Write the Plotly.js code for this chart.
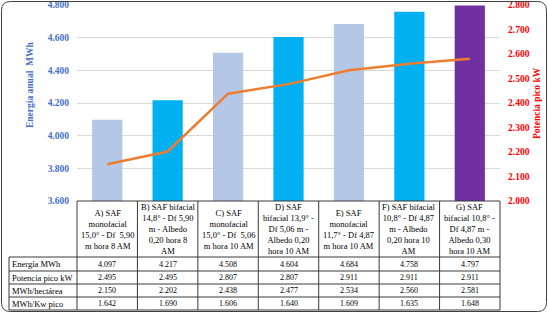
<!DOCTYPE html>
<html>
<head>
<meta charset="utf-8">
<script src="https://cdn.plot.ly/plotly-3.0.1.min.js"></script>
<style>html,body{margin:0;padding:0;background:#fff;}#chart{width:548px;height:313px;}</style>
</head>
<body>
<div id="chart"></div>
<script>
// ---- data ----
var categories = [
  "A) SAF<br>monofacial<br>15,0° - Df  5,90<br>m hora 8 AM",
  "B) SAF bifacial<br>14,8° - Df 5,90<br>m - Albedo<br>0,20 hora 8<br>AM",
  "C) SAF<br>monofacial<br>15,0° - Df  5,06<br>m hora 10 AM",
  "D) SAF<br>bifacial 13,9° -<br>Df 5,06 m -<br>Albedo 0,20<br>hora 10 AM",
  "E) SAF<br>monofacial<br>11,7° - Df 4,87<br>m hora 10 AM",
  "F) SAF bifacial<br>10,8° - Df 4,87<br>m - Albedo<br>0,20 hora 10<br>AM",
  "G) SAF<br>bifacial 10,8° -<br>Df 4,87 m -<br>Albedo 0,30<br>hora 10 AM"
];
var energiaMWh = [4097, 4217, 4508, 4604, 4684, 4758, 4797];
var potenciaPicoKW = [2495, 2495, 2807, 2807, 2911, 2911, 2911];
var mwhHectarea = [2150, 2202, 2438, 2477, 2534, 2560, 2581];
var mwhKwPico = [1642, 1690, 1606, 1640, 1609, 1635, 1648];
var rowLabels = ["Energía MWh", "Potencia pico kW", "MWh/hectárea", "MWh/Kw pico"];
var rowValues = [energiaMWh, potenciaPicoKW, mwhHectarea, mwhKwPico];
var barColors = ["#B4C7E7", "#00B0F0", "#B4C7E7", "#00B0F0", "#B4C7E7", "#00B0F0", "#7030A0"];
var leftTitle = "Energía anual  MWh";
var rightTitle = "Potencia pico kW";

// ---- layout geometry ----
var W = 548, H = 313, ML = 77, MR = 48, MT = 5, MB = 112;
var PW = W - ML - MR, PH = H - MT - MB;
function px(x) { return (x - ML) / PW; }
function py(y) { return (H - MB - y) / PH; }
function fmt(v) { return Math.floor(v / 1000) + "." + String(v % 1000).padStart(3, "0"); }

var n = categories.length;
var FONT = "'Liberation Serif'";
var lineCol = "#3a3a3a";

var traces = [
  {
    type: "bar", x: categories, y: energiaMWh, yaxis: "y",
    marker: { color: barColors, line: { width: 0 } },
    hoverinfo: "skip", showlegend: false
  },
  {
    type: "scatter", mode: "lines", x: categories, y: mwhHectarea, yaxis: "y2",
    line: { color: "#ED7D31", width: 2.5 },
    hoverinfo: "skip", showlegend: false
  }
];

var shapes = [];
var annotations = [];
var rowY = [257, 271, 284, 297, 310];
var tableTop = H - MB;
var labelLeft = px(9);

shapes.push({ type: "line", xref: "paper", yref: "paper", x0: 0, x1: 1, y0: py(tableTop), y1: py(tableTop), line: { color: lineCol, width: 1 } });
for (var k = 0; k <= n; k++) {
  shapes.push({ type: "line", xref: "paper", yref: "paper", x0: k / n, x1: k / n, y0: py(tableTop), y1: py(rowY[rowY.length - 1]), line: { color: lineCol, width: 1 } });
}
shapes.push({ type: "line", xref: "paper", yref: "paper", x0: labelLeft, x1: labelLeft, y0: py(rowY[0]), y1: py(rowY[rowY.length - 1]), line: { color: lineCol, width: 1 } });
rowY.forEach(function (y) {
  shapes.push({ type: "line", xref: "paper", yref: "paper", x0: labelLeft, x1: 1, y0: py(y), y1: py(y), line: { color: lineCol, width: 1 } });
});

categories.forEach(function (c, i) {
  annotations.push({
    xref: "paper", yref: "paper", x: (i + 0.5) / n, y: py((tableTop + rowY[0]) / 2),
    text: c, showarrow: false, xanchor: "center", yanchor: "middle", align: "center",
    font: { family: FONT, size: 8.5, color: "#000" }
  });
});
rowLabels.forEach(function (lab, r) {
  var yc = py((rowY[r] + rowY[r + 1]) / 2);
  annotations.push({
    xref: "paper", yref: "paper", x: px(10), y: yc, text: lab, showarrow: false,
    xanchor: "left", yanchor: "middle", font: { family: FONT, size: 8.5, color: "#000" }
  });
  rowValues[r].forEach(function (v, i) {
    annotations.push({
      xref: "paper", yref: "paper", x: (i + 0.5) / n, y: yc, text: fmt(v), showarrow: false,
      xanchor: "center", yanchor: "middle", font: { family: FONT, size: 8, color: "#000" }
    });
  });
});

annotations.push({
  xref: "paper", yref: "paper", x: px(30), y: py(85), text: "<b>" + leftTitle + "</b>",
  textangle: -90, showarrow: false, xanchor: "center", yanchor: "middle",
  font: { family: FONT, size: 9.5, color: "#4472C4" }
});
annotations.push({
  xref: "paper", yref: "paper", x: px(537), y: py(103), text: "<b>" + rightTitle + "</b>",
  textangle: -90, showarrow: false, xanchor: "center", yanchor: "middle",
  font: { family: FONT, size: 9.5, color: "#FF0000" }
});

(function () {
  var x0 = px(1.5), x1 = px(546.5), y0 = py(311.5), y1 = py(1.5);
  var rx = 9 / PW, ry = 9 / PH;
  var p = "M " + (x0 + rx) + "," + y1 +
    " L " + (x1 - rx) + "," + y1 + " Q " + x1 + "," + y1 + " " + x1 + "," + (y1 - ry) +
    " L " + x1 + "," + (y0 + ry) + " Q " + x1 + "," + y0 + " " + (x1 - rx) + "," + y0 +
    " L " + (x0 + rx) + "," + y0 + " Q " + x0 + "," + y0 + " " + x0 + "," + (y0 + ry) +
    " L " + x0 + "," + (y1 - ry) + " Q " + x0 + "," + y1 + " " + (x0 + rx) + "," + y1 + " Z";
  shapes.push({ type: "path", xref: "paper", yref: "paper", path: p, line: { color: "#404040", width: 1 } });
})();

var layout = {
  width: W, height: H,
  margin: { l: ML, r: MR, t: MT, b: MB, pad: 0 },
  paper_bgcolor: "#fff", plot_bgcolor: "#fff",
  separators: ",.",
  font: { family: FONT, size: 9 },
  bargap: 0.5,
  xaxis: { type: "category", showticklabels: false, showgrid: false, zeroline: false, showline: false, ticks: "", range: [-0.5, n - 0.5], fixedrange: true },
  yaxis: {
    range: [3600, 4800], dtick: 200, tick0: 3600, separatethousands: true,
    showgrid: true, gridcolor: "#D9D9D9", gridwidth: 1, zeroline: false, showline: false,
    ticks: "", ticklabelstandoff: 7,
    tickfont: { family: FONT, size: 9.5, color: "#4472C4", weight: "bold" }
  },
  yaxis2: {
    overlaying: "y", side: "right", range: [2000, 2800], dtick: 100, tick0: 2000, separatethousands: true,
    showgrid: false, zeroline: false, showline: false, ticks: "", ticklabelstandoff: 7,
    tickfont: { family: FONT, size: 9.5, color: "#FF0000", weight: "bold" }
  },
  shapes: shapes,
  annotations: annotations
};

Plotly.newPlot("chart", traces, layout, { staticPlot: true, displayModeBar: false });
</script>
</body>
</html>
